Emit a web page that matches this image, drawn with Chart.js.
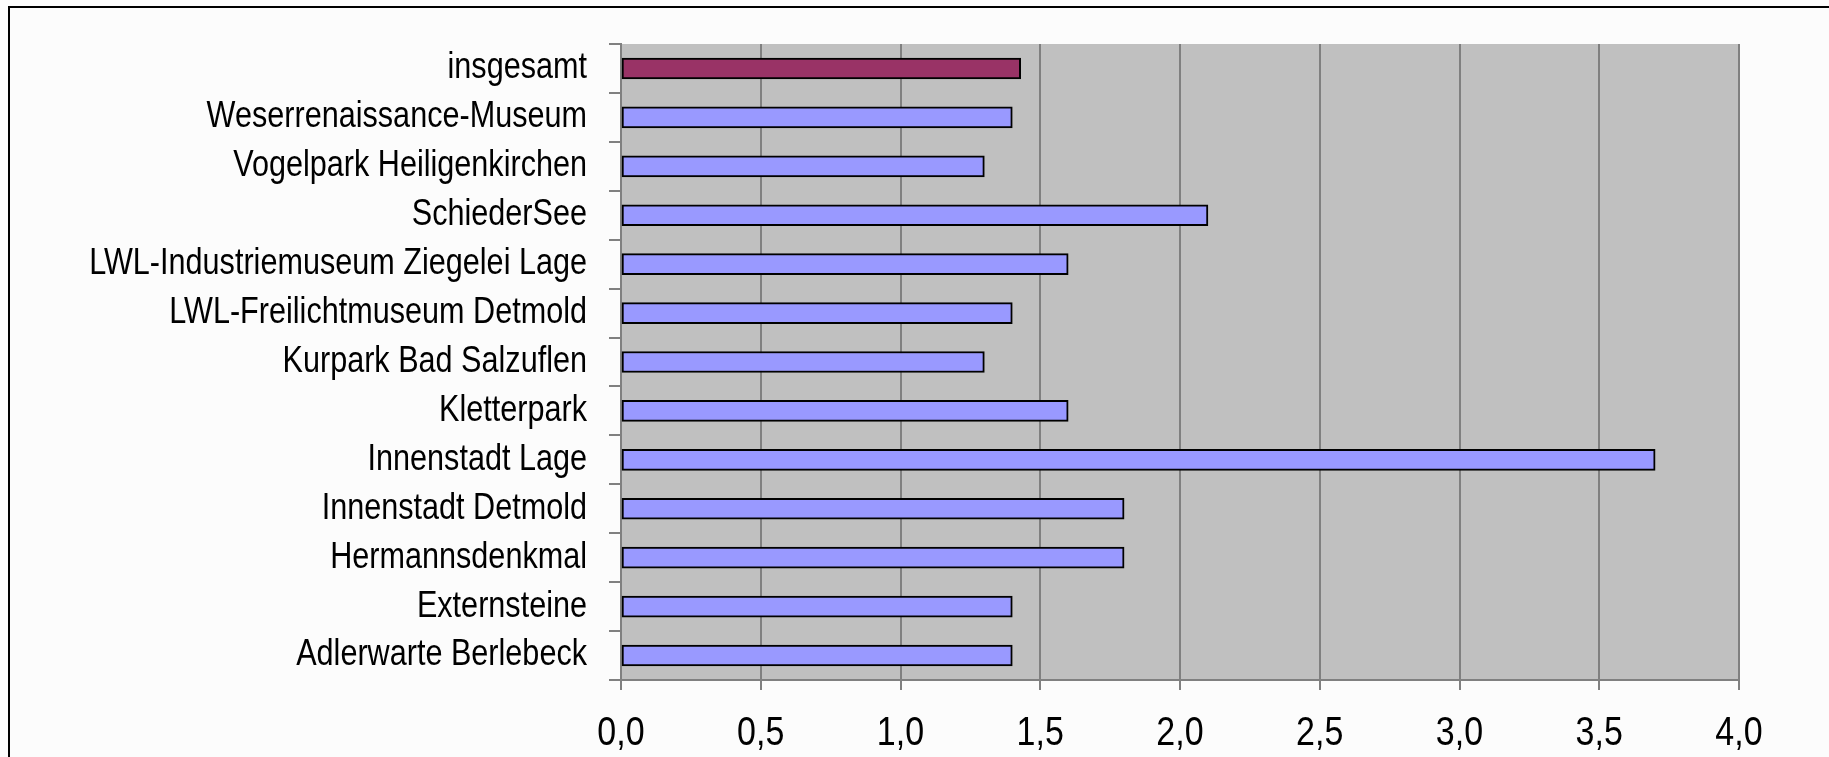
<!DOCTYPE html>
<html>
<head>
<meta charset="utf-8">
<script src="https://cdn.jsdelivr.net/npm/chart.js@4"></script>
<style>
  html, body { margin: 0; padding: 0; background: #fcfcfc; overflow: hidden; }
  #frame {
    position: absolute; left: 8px; top: 6px; width: 1900px; height: 900px;
    border-top: 2px solid #000; border-left: 2px solid #000;
  }
  #wrap { position: absolute; left: 0; top: 0; width: 1829px; height: 757px; }
</style>
</head>
<body>
<div id="frame"></div>
<div id="wrap"><canvas id="chart" width="1829" height="757"></canvas></div>
<script>
// categories, top to bottom
const places = [
  'insgesamt',
  'Weserrenaissance-Museum',
  'Vogelpark Heiligenkirchen',
  'SchiederSee',
  'LWL-Industriemuseum Ziegelei Lage',
  'LWL-Freilichtmuseum Detmold',
  'Kurpark Bad Salzuflen',
  'Kletterpark',
  'Innenstadt Lage',
  'Innenstadt Detmold',
  'Hermannsdenkmal',
  'Externsteine',
  'Adlerwarte Berlebeck'
];
const values = [1.43, 1.4, 1.3, 2.1, 1.6, 1.4, 1.3, 1.6, 3.7, 1.8, 1.8, 1.4, 1.4];
const xTicks = [0, 0.5, 1, 1.5, 2, 2.5, 3, 3.5, 4];

const fontFamily = '"Liberation Sans Narrow", "Arial Narrow", "Liberation Sans", sans-serif';

// no narrow font installed: squeeze text horizontally around its anchor point
const canvas = document.getElementById('chart');
const c2d = canvas.getContext('2d');
const origFillText = c2d.fillText;
c2d.fillText = function (text, x, y, maxWidth) {
  this.save();
  this.translate(x, y);
  this.scale(0.85, 1);
  origFillText.call(this, text, 0, 0);
  this.restore();
};

// grey plot background
const plotBg = {
  id: 'plotBg',
  beforeDraw(chart) {
    const a = chart.chartArea;
    const ctx = chart.ctx;
    ctx.save();
    ctx.fillStyle = '#c0c0c0';
    ctx.fillRect(a.left, a.top, a.right - a.left, a.bottom - a.top);
    ctx.restore();
  }
};

new Chart(canvas, {
  type: 'bar',
  data: {
    labels: places,
    datasets: [{
      data: values,
      backgroundColor: places.map(p => p === 'insgesamt' ? '#993366' : '#9999ff'),
      borderColor: '#000',
      borderWidth: 2,
      borderSkipped: false,
      barThickness: 21
    }]
  },
  options: {
    indexAxis: 'y',
    responsive: false,
    animation: false,
    layout: { padding: { top: 44, right: 90, left: 0, bottom: 0 } },
    plugins: {
      legend: { display: false },
      tooltip: { enabled: false }
    },
    scales: {
      x: {
        min: 0,
        max: 4,
        afterBuildTicks(scale) {
          scale.ticks = xTicks.map(v => ({ value: v }));
        },
        afterFit(scale) { scale.height = 77; },
        grid: {
          color: '#808080',
          lineWidth: 2,
          tickLength: 10
        },
        border: { color: '#808080', width: 2 },
        ticks: {
          color: '#000',
          padding: 20,
          font: { family: fontFamily, size: 40 },
          callback: v => v.toFixed(1).replace('.', ',')
        }
      },
      y: {
        afterFit(scale) { scale.width = 621; },
        grid: {
          drawOnChartArea: false,
          color: '#808080',
          lineWidth: 2,
          tickLength: 12,
          offset: true
        },
        border: { color: '#808080', width: 2 },
        ticks: {
          color: '#000',
          padding: 22,
          font: { family: fontFamily, size: 36 }
        }
      }
    }
  },
  plugins: [plotBg]
});
</script>
</body>
</html>
